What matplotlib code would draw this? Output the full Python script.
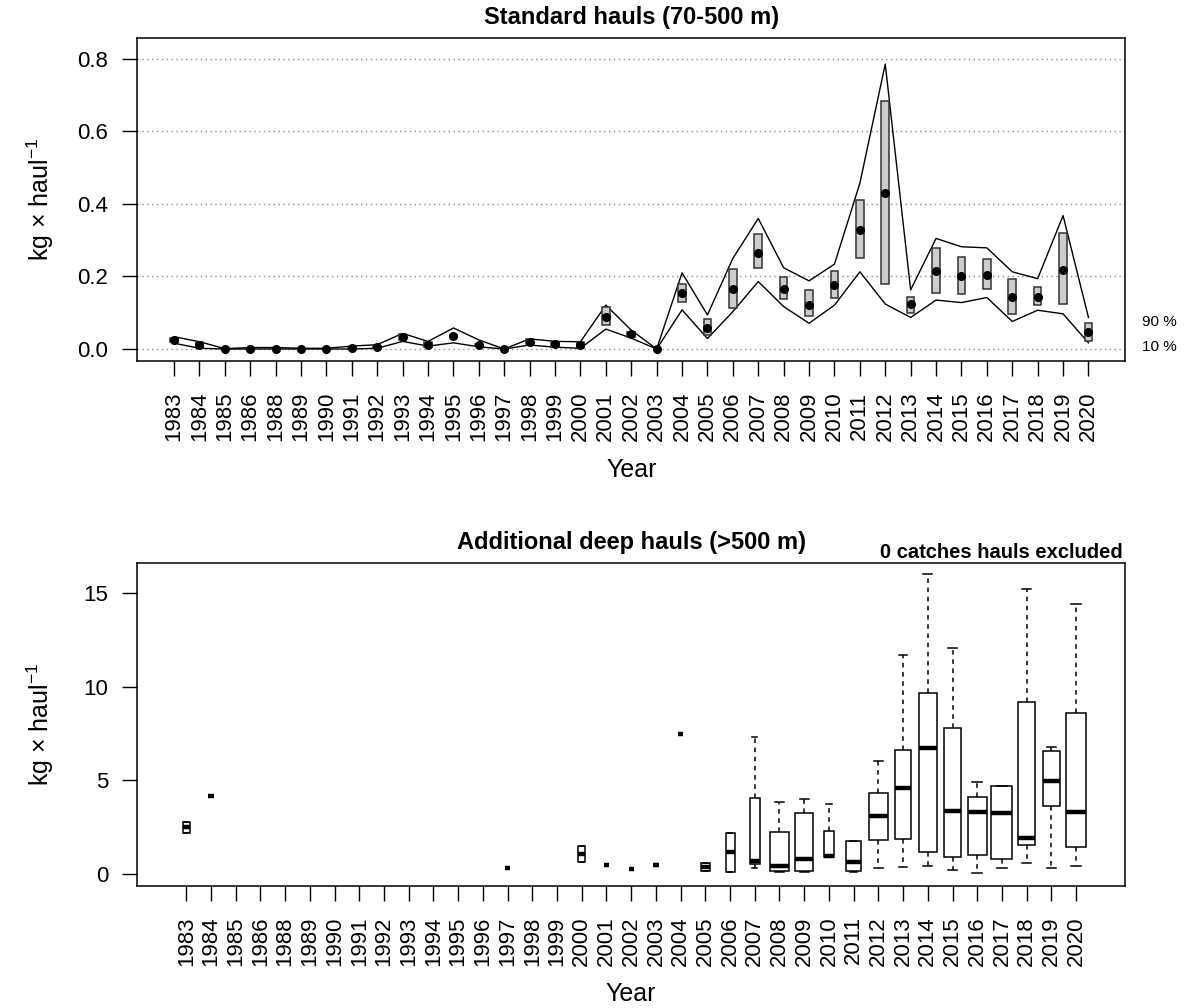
import numpy as np
import matplotlib
matplotlib.use("Agg")
import matplotlib.pyplot as plt

plt.rcParams["font.family"] = ["Liberation Sans", "DejaVu Sans"]
plt.rcParams["mathtext.fontset"] = "custom"
plt.rcParams["mathtext.rm"] = "Liberation Sans"
plt.rcParams["mathtext.it"] = "Liberation Sans:italic"
plt.rcParams["mathtext.bf"] = "Liberation Sans:bold"

years = ["1983", "1984", "1985", "1986", "1988", "1989", "1990", "1991", "1992",
         "1993", "1994", "1995", "1996", "1997", "1998", "1999", "2000", "2001",
         "2002", "2003", "2004", "2005", "2006", "2007", "2008", "2009", "2010",
         "2011", "2012", "2013", "2014", "2015", "2016", "2017", "2018", "2019",
         "2020"]

# standard hauls: mean, box range and 10/90 % percentile lines (kg per haul)
std_mean = [0.025, 0.010, 0.000, 0.001, 0.000, 0.000, 0.000, 0.002, 0.006, 0.034,
            0.012, 0.036, 0.012, 0.000, 0.020, 0.013, 0.010, 0.089, 0.041, 0.000,
            0.154, 0.057, 0.166, 0.266, 0.166, 0.122, 0.177, 0.328, 0.430, 0.123,
            0.216, 0.202, 0.205, 0.144, 0.144, 0.219, 0.047]
std_lo = [0.019, 0.003, 0.000, 0.000, 0.000, 0.000, 0.000, 0.001, 0.004, 0.026,
          0.006, 0.033, 0.009, 0.000, 0.012, 0.005, 0.003, 0.065, 0.034, 0.000,
          0.131, 0.038, 0.114, 0.224, 0.137, 0.090, 0.142, 0.251, 0.179, 0.100,
          0.154, 0.152, 0.166, 0.096, 0.120, 0.124, 0.021]
std_hi = [0.031, 0.018, 0.001, 0.002, 0.001, 0.001, 0.001, 0.004, 0.009, 0.041,
          0.018, 0.039, 0.015, 0.001, 0.027, 0.020, 0.019, 0.115, 0.048, 0.001,
          0.179, 0.084, 0.221, 0.317, 0.199, 0.162, 0.214, 0.410, 0.683, 0.144,
          0.279, 0.255, 0.248, 0.193, 0.172, 0.321, 0.073]
std_p90 = [0.034, 0.020, 0.001, 0.004, 0.004, 0.002, 0.002, 0.008, 0.012, 0.043,
           0.021, 0.058, 0.025, 0.000, 0.028, 0.021, 0.020, 0.121, 0.052, 0.000,
           0.210, 0.094, 0.250, 0.360, 0.224, 0.188, 0.234, 0.457, 0.786, 0.163,
           0.305, 0.282, 0.279, 0.213, 0.194, 0.368, 0.087]
std_p10 = [0.016, 0.002, 0.000, 0.000, 0.000, 0.000, 0.000, 0.000, 0.002, 0.021,
           0.008, 0.017, 0.006, 0.000, 0.011, 0.005, 0.002, 0.055, 0.030, 0.000,
           0.108, 0.029, 0.103, 0.186, 0.117, 0.071, 0.121, 0.213, 0.124, 0.087,
           0.135, 0.128, 0.142, 0.076, 0.107, 0.097, 0.017]

# deep hauls (>500 m), positive catches only; nan = no hauls with catch
nan = np.nan
deep_n = [2, 1, 0, 0, 0, 0, 0, 0, 0, 0, 0, 0, 0, 1, 0, 0, 2, 1, 1, 1, 1, 3, 3, 4,
          12, 12, 4, 8, 13, 10, 12, 11, 13, 16, 11, 11, 14]
deep_whislo = [2.17, 4.18, nan, nan, nan, nan, nan, nan, nan, nan, nan, nan, nan,
               0.33, nan, nan, 0.61, 0.45, 0.27, 0.45, 7.50, 0.15, 0.12, 0.29,
               0.10, 0.12, 0.88, 0.12, 0.30, 0.35, 0.43, 0.20, 0.05, 0.29, 0.56,
               0.29, 0.40]
deep_q1 = [2.17, 4.18, nan, nan, nan, nan, nan, nan, nan, nan, nan, nan, nan,
           0.33, nan, nan, 0.61, 0.45, 0.27, 0.45, 7.50, 0.15, 0.12, 0.51,
           0.15, 0.17, 0.88, 0.15, 1.81, 1.88, 1.15, 0.88, 1.02, 0.81, 1.56,
           3.63, 1.42]
deep_med = [2.52, 4.18, nan, nan, nan, nan, nan, nan, nan, nan, nan, nan, nan,
            0.33, nan, nan, 1.04, 0.45, 0.27, 0.45, 7.50, 0.35, 1.17, 0.68,
            0.42, 0.78, 0.93, 0.65, 3.11, 4.57, 6.71, 3.36, 3.29, 3.23, 1.91,
            4.96, 3.30]
deep_q3 = [2.79, 4.18, nan, nan, nan, nan, nan, nan, nan, nan, nan, nan, nan,
           0.33, nan, nan, 1.49, 0.45, 0.27, 0.45, 7.50, 0.56, 2.17, 4.03,
           2.24, 3.23, 2.29, 1.77, 4.30, 6.64, 9.65, 7.78, 4.11, 4.71, 9.17,
           6.58, 8.58]
deep_whishi = [2.79, 4.18, nan, nan, nan, nan, nan, nan, nan, nan, nan, nan, nan,
               0.33, nan, nan, 1.49, 0.45, 0.27, 0.45, 7.50, 0.56, 2.17, 7.30,
               3.82, 4.02, 3.71, 1.77, 6.05, 11.70, 16.05, 12.06, 4.89, 4.71,
               15.23, 6.76, 14.43]

x = np.arange(1, len(years) + 1)

fig = plt.figure(figsize=(11.86, 10.08), dpi=100)
ax1 = fig.add_axes([0.1159, 0.6419, 0.8327, 0.3201])
ax2 = fig.add_axes([0.1158, 0.1213, 0.8328, 0.3205])

# ---- standard hauls ----
for v in [0.0, 0.2, 0.4, 0.6, 0.8]:
    ax1.axhline(v, color="#8c8c8c", lw=1.0, ls=(0, (1, 2.5)), zorder=0)
ax1.plot(x, std_p90, color="black", lw=1.0, zorder=2)
ax1.plot(x, std_p10, color="black", lw=1.0, zorder=2)
ax1.bar(x, np.array(std_hi) - np.array(std_lo), bottom=std_lo, width=0.3,
        color="#cccccc", edgecolor="#333333", linewidth=1.1, zorder=3)
ax1.plot(x, std_mean, "o", color="black", ms=5.5, zorder=4)

ax1.set_xlim(1 - 1.44, len(years) + 1.44)
ax1.set_ylim(-0.033, 0.857)
ax1.set_yticks([0.0, 0.2, 0.4, 0.6, 0.8])
ax1.set_yticklabels(["0.0", "0.2", "0.4", "0.6", "0.8"])
ax1.set_xticks(x)
ax1.set_xticklabels(years, rotation=90)
ax1.set_title("Standard hauls (70-500 m)", fontsize=17, fontweight="bold", pad=10)
ax1.set_xlabel("Year", fontsize=18)
ax1.set_ylabel("kg × haul$^{-1}$", fontsize=18)
ax1.xaxis.set_label_coords(0.5, -0.30)
ax1.yaxis.set_label_coords(-0.082, 0.5)
ax1.text(len(years) + 2.1, 0.075, "90 %", fontsize=11, va="center", clip_on=False)
ax1.text(len(years) + 2.1, 0.005, "10 %", fontsize=11, va="center", clip_on=False)

# ---- deep hauls ----
stats, pos, widths = [], [], []
for i in range(len(years)):
    if deep_n[i] == 0:
        continue
    stats.append(dict(whislo=deep_whislo[i], q1=deep_q1[i], med=deep_med[i],
                      q3=deep_q3[i], whishi=deep_whishi[i], fliers=[]))
    pos.append(x[i])
    widths.append(0.85 * np.sqrt(deep_n[i] / max(deep_n)))

ax2.bxp(stats, positions=pos, widths=widths, capwidths=[w * 0.5 for w in widths],
        showfliers=False, patch_artist=True,
        boxprops=dict(facecolor="white", edgecolor="black", linewidth=1.1),
        medianprops=dict(color="black", linewidth=3.2, solid_capstyle="butt"),
        whiskerprops=dict(color="black", linewidth=1.1, linestyle=(0, (3, 3))),
        capprops=dict(color="black", linewidth=1.1))

ax2.set_xlim(0.5 - 1.48, len(years) + 0.5 + 1.48)
ax2.set_ylim(-0.64, 16.64)
ax2.set_yticks([0, 5, 10, 15])
ax2.set_xticks(x)
ax2.set_xticklabels(years, rotation=90)
ax2.set_title("Additional deep hauls (>500 m)", fontsize=17, fontweight="bold", pad=10)
ax2.text(0.998, 1.0146, "0 catches hauls excluded", transform=ax2.transAxes,
         ha="right", va="baseline", fontsize=14.5, fontweight="bold")
ax2.set_xlabel("Year", fontsize=18)
ax2.set_ylabel("kg × haul$^{-1}$", fontsize=18)
ax2.xaxis.set_label_coords(0.5, -0.298)
ax2.yaxis.set_label_coords(-0.082, 0.5)

for ax in (ax1, ax2):
    ax.tick_params(axis="both", direction="out", length=11, width=1.0,
                   labelsize=16, color="black")
    ax.tick_params(axis="x", pad=11)
    ax.tick_params(axis="y", pad=10)
    for sp in ax.spines.values():
        sp.set_linewidth(1.1)

fig.savefig("out.png", dpi=100)
